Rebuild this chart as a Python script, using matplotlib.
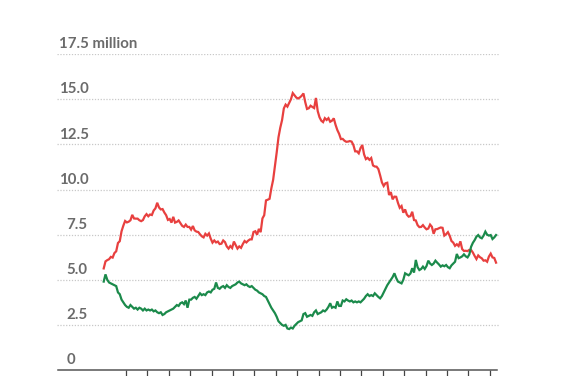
import numpy as np
import matplotlib
matplotlib.use('Agg')
import matplotlib.pyplot as plt

# monthly values, Dec 2000 .. Apr 2019 (millions)
unemployed = [
    5.63,
    6.02, 6.09, 6.14, 6.27, 6.23, 6.48, 6.58, 7.04, 7.14, 7.69, 8.00, 8.26,
    8.18, 8.22, 8.30, 8.60, 8.40, 8.39, 8.39, 8.30, 8.25, 8.31, 8.52, 8.64,
    8.52, 8.62, 8.59, 8.84, 8.96, 9.27, 9.01, 8.90, 8.92, 8.73, 8.58, 8.32,
    8.37, 8.17, 8.49, 8.17, 8.21, 8.29, 8.14, 7.99, 7.93, 8.06, 7.93, 7.93,
    7.78, 7.98, 7.74, 7.67, 7.65, 7.52, 7.41, 7.35, 7.55, 7.45, 7.57, 7.28,
    7.06, 7.18, 7.07, 7.12, 6.98, 7.00, 7.18, 7.09, 6.85, 6.73, 6.87, 6.76,
    7.12, 6.93, 6.73, 6.85, 6.77, 6.98, 7.15, 7.07, 7.17, 7.24, 7.24, 7.65,
    7.69, 7.50, 7.82, 7.64, 8.40, 8.58, 9.40, 9.44, 9.49, 10.07, 10.54, 11.29,
    12.06, 12.90, 13.43, 13.85, 14.50, 14.71, 14.60, 14.81, 15.01, 15.35, 15.22, 15.10,
    15.05, 15.11, 15.20, 15.33, 14.85, 14.47, 14.51, 14.65, 14.58, 14.52, 15.08, 14.35,
    14.01, 13.82, 13.74, 13.96, 13.86, 13.96, 13.76, 13.82, 13.95, 13.59, 13.30, 13.09,
    12.80, 12.81, 12.71, 12.65, 12.66, 12.69, 12.66, 12.47, 12.12, 12.12, 12.01, 12.30,
    12.47, 11.95, 11.69, 11.76, 11.65, 11.75, 11.34, 11.28, 11.27, 11.14, 10.79, 10.40,
    10.20, 10.35, 10.38, 9.70, 9.86, 9.46, 9.61, 9.60, 9.26, 8.99, 9.09, 8.72,
    8.90, 8.61, 8.50, 8.53, 8.77, 8.31, 8.29, 8.03, 7.92, 7.93, 8.03, 7.90,
    7.80, 7.84, 8.06, 7.94, 7.55, 7.80, 7.81, 7.86, 7.90, 7.88, 7.45, 7.53,
    7.64, 7.44, 7.15, 7.06, 6.88, 6.97, 6.87, 7.13, 6.70, 6.60, 6.61, 6.59,
    6.66, 6.65, 6.51, 6.32, 6.15, 6.35, 6.25, 6.19, 6.06, 6.08, 6.00, 6.29,
    6.45, 6.24, 6.21, 5.95,
]

openings = [
    4.90,
    5.30, 5.00, 4.85, 4.80, 4.75, 4.70, 4.65, 4.30, 4.20, 3.90, 3.75, 3.60,
    3.50, 3.45, 3.60, 3.50, 3.40, 3.45, 3.35, 3.45, 3.40, 3.30, 3.40, 3.30,
    3.35, 3.30, 3.35, 3.25, 3.30, 3.20, 3.15, 3.20, 3.05, 3.10, 3.20, 3.25,
    3.30, 3.35, 3.40, 3.50, 3.60, 3.55, 3.70, 3.75, 3.65, 3.85, 3.45, 3.90,
    3.90, 4.00, 4.05, 3.95, 4.10, 4.25, 4.15, 4.20, 4.15, 4.30, 4.35, 4.30,
    4.45, 4.50, 4.85, 4.55, 4.50, 4.60, 4.65, 4.55, 4.70, 4.60, 4.55, 4.65,
    4.70, 4.75, 4.85, 4.90, 4.80, 4.75, 4.70, 4.75, 4.65, 4.60, 4.65, 4.55,
    4.45, 4.40, 4.30, 4.25, 4.20, 4.10, 4.05, 3.85, 3.65, 3.45, 3.30, 3.15,
    2.95, 2.70, 2.60, 2.50, 2.45, 2.50, 2.30, 2.27, 2.35, 2.30, 2.45, 2.55,
    2.65, 2.70, 2.75, 3.10, 3.15, 2.95, 3.00, 3.05, 3.00, 3.20, 3.30, 3.10,
    3.15, 3.20, 3.30, 3.25, 3.35, 3.50, 3.70, 3.45, 3.50, 3.45, 3.80, 3.55,
    3.55, 3.85, 3.80, 3.92, 3.85, 3.80, 3.85, 3.75, 3.80, 3.75, 3.80, 3.75,
    3.85, 3.95, 4.10, 4.20, 4.10, 4.15, 4.10, 4.25, 4.15, 4.05, 3.97, 4.10,
    4.30, 4.50, 4.70, 4.85, 5.00, 5.15, 5.36, 5.10, 4.90, 4.85, 4.80, 5.00,
    5.36, 5.30, 5.25, 5.35, 5.64, 5.40, 6.10, 5.70, 5.54, 5.60, 5.73, 5.60,
    5.76, 6.06, 5.90, 5.82, 5.90, 6.06, 5.95, 5.85, 5.73, 5.80, 5.75, 5.82,
    5.70, 5.64, 5.80, 5.90, 6.00, 6.43, 6.20, 6.24, 6.30, 6.41, 6.30, 6.24,
    6.40, 6.83, 7.05, 7.20, 7.39, 7.48, 7.35, 7.30, 7.45, 7.67, 7.50, 7.45,
    7.48, 7.26, 7.35, 7.48,
]

y_ticks = [0, 2.5, 5.0, 7.5, 10.0, 12.5, 15.0, 17.5]
y_labels = ['0', '2.5', '5.0', '7.5', '10.0', '12.5', '15.0', '17.5 million']
x_ticks = list(range(2002, 2020))

# mid-month positions starting Dec 2000
t = 2000 + 11 / 12 + 1 / 24 + np.arange(len(unemployed)) / 12

fig = plt.figure(figsize=(5.65, 3.76), dpi=100)
ax = fig.add_axes([0.1009, 0.016, 0.7841, 0.8396])

ax.set_xlim(1998.776, 2019.477)
ax.set_ylim(0, 17.5)

for v in y_ticks[1:]:
    ax.axhline(v, color='#c8c8c8', lw=0.9, ls=(0, (1, 1.3)), zorder=1)

ax.plot(t, unemployed, color='#e8403f', lw=1.6, zorder=3, solid_joinstyle='miter')
ax.plot(t, openings, color='#1b8a4b', lw=1.6, zorder=3, solid_joinstyle='miter')

for v, lab in zip(y_ticks, y_labels):
    xpx = 59.3 if v >= 10 else 66.7
    xa = (xpx - 57) / 443
    ax.annotate(lab, xy=(xa, v), xycoords=ax.get_yaxis_transform(),
                xytext=(0, 4.3), textcoords='offset points',
                ha='left', va='baseline', fontsize=10.8, color='#6b6b6b',
                family=['Lato', 'DejaVu Sans'], fontweight='bold')

for s in ['top', 'right', 'left']:
    ax.spines[s].set_visible(False)
ax.spines['bottom'].set_color('#555555')
ax.spines['bottom'].set_linewidth(1.1)
ax.spines['bottom'].set_bounds(1998.82, 2019.34)

ax.set_yticks([])
ax.set_xticks(x_ticks)
ax.set_xticklabels([])
ax.tick_params(axis='x', direction='out', length=4.5, width=0.9, color='#444444')

fig.savefig('out.png', dpi=100)
